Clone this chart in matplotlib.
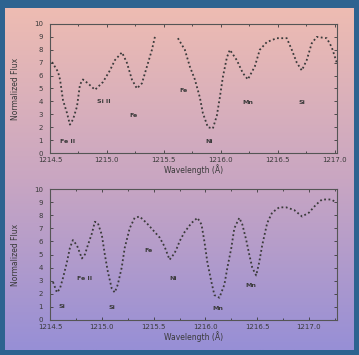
import numpy as np
import matplotlib.pyplot as plt
from matplotlib.colors import LinearSegmentedColormap
from matplotlib.ticker import MultipleLocator

# top spectrum (wavelength in A, normalized flux x10), gap where the scan loses the line
top_wave = [1214.518, 1214.570, 1214.588, 1214.614, 1214.649, 1214.675, 1214.702, 1214.737,
            1214.763, 1214.789, 1214.833, 1214.895, 1214.965, 1215.026, 1215.070, 1215.132,
            1215.175, 1215.219, 1215.263, 1215.307, 1215.351, 1215.395, 1215.421, 1215.52,
            1215.623, 1215.684, 1215.728, 1215.772, 1215.816, 1215.842, 1215.886, 1215.930,
            1215.965, 1215.991, 1216.018, 1216.053, 1216.079, 1216.140, 1216.193, 1216.237,
            1216.298, 1216.342, 1216.404, 1216.491, 1216.579, 1216.623, 1216.667, 1216.711,
            1216.754, 1216.798, 1216.842, 1216.930, 1216.974, 1217.018]
top_flux = [7.05, 6.3, 5.7, 4.1, 3.1, 2.2, 2.6, 3.6,
            5.3, 5.7, 5.4, 4.9, 5.5, 6.4, 7.2, 7.8,
            7.0, 5.7, 5.0, 5.4, 6.7, 8.0, 9.0, np.nan,
            8.9, 8.0, 6.7, 5.7, 4.3, 3.1, 2.0, 1.9,
            2.9, 4.3, 5.9, 7.4, 8.0, 7.2, 6.2, 5.7,
            6.7, 8.0, 8.6, 8.9, 8.9, 8.0, 7.0, 6.4,
            7.2, 8.5, 9.0, 8.9, 8.2, 7.0]

bot_wave = [1214.529, 1214.567, 1214.596, 1214.625, 1214.663, 1214.692, 1214.721, 1214.760,
            1214.808, 1214.837, 1214.865, 1214.904, 1214.933, 1214.962, 1215.000, 1215.029,
            1215.058, 1215.096, 1215.125, 1215.154, 1215.192, 1215.221, 1215.269, 1215.317,
            1215.365, 1215.433, 1215.490, 1215.558, 1215.606, 1215.654, 1215.702, 1215.731,
            1215.750, 1215.798, 1215.865, 1215.923, 1215.962, 1215.990, 1216.019, 1216.058,
            1216.087, 1216.135, 1216.183, 1216.212, 1216.250, 1216.279, 1216.327, 1216.356,
            1216.394, 1216.423, 1216.452, 1216.490, 1216.519, 1216.548, 1216.596, 1216.644,
            1216.712, 1216.779, 1216.856, 1216.933, 1217.000, 1217.067, 1217.125, 1217.212,
            1217.260]
bot_flux = [2.9, 2.1, 2.4, 3.2, 4.4, 5.5, 6.1, 5.7,
            4.7, 5.0, 5.7, 6.6, 7.5, 7.4, 6.5, 5.0,
            3.7, 2.4, 2.1, 2.7, 4.0, 5.5, 7.0, 7.8,
            7.9, 7.4, 6.9, 6.3, 5.6, 4.6, 5.1, 5.6,
            6.0, 6.7, 7.4, 7.8, 7.3, 6.0, 4.4, 2.9,
            1.9, 1.7, 2.7, 4.0, 5.5, 7.0, 7.8, 7.3,
            6.1, 5.0, 4.0, 3.4, 4.4, 5.7, 7.4, 8.2,
            8.6, 8.6, 8.4, 7.9, 8.2, 8.8, 9.2, 9.2,
            9.0]

top_ions = ["Fe II", "Si II", "Fe", "Fe", "Ni", "Mn", "Si"]
top_ion_x = [1214.59, 1214.91, 1215.20, 1215.64, 1215.86, 1216.19, 1216.68]
top_ion_y = [0.8, 3.9, 2.8, 4.7, 0.8, 3.8, 3.8]

bot_ions = ["Fe II", "Si", "Si", "Fe", "Ni", "Mn", "Mn"]
bot_ion_x = [1214.76, 1214.58, 1215.06, 1215.41, 1215.65, 1216.07, 1216.39]
bot_ion_y = [3.05, 0.9, 0.85, 5.2, 3.05, 0.75, 2.5]

xticks = [1214.5, 1215.0, 1215.5, 1216.0, 1216.5, 1217.0]
yticks = list(range(0, 11))

fig = plt.figure(figsize=(3.59, 3.55), dpi=100)
fig.patch.set_facecolor('#2d6390')

# gradient card behind the plots
bg = fig.add_axes([5/359, 5/355, 349/359, 342/355])
cmap = LinearSegmentedColormap.from_list('card', ['#eebcb2', '#c9a6c2', '#978fd6'])
bg.imshow(np.linspace(0, 1, 256).reshape(-1, 1), aspect='auto', cmap=cmap,
          extent=[0, 1, 0, 1])
bg.axis('off')

ink = '#3a3a3a'
panels = [
    ([50/359, 202/355, 287/359, 129/355], top_wave, top_flux, top_ions, top_ion_x, top_ion_y, 1217.02),
    ([50/359, 35/355, 287/359, 131/355], bot_wave, bot_flux, bot_ions, bot_ion_x, bot_ion_y, 1217.27),
]
for rect, wx, fx, ions, ix, iy, xmax in panels:
    ax = fig.add_axes(rect)
    ax.set_facecolor('none')
    ax.plot(wx, fx, color=ink, linestyle=(0, (1, 1.4)), linewidth=1.3)
    for t, x, y in zip(ions, ix, iy):
        ax.text(x, y, t, fontsize=4.5, color=ink, fontweight='bold')
    ax.set_xlim(1214.5, xmax)
    ax.set_ylim(0, 10)
    ax.set_xticks(xticks)
    ax.set_xticklabels([f'{v:.1f}' for v in xticks])
    ax.xaxis.set_minor_locator(MultipleLocator(0.25))
    ax.set_yticks(yticks)
    ax.tick_params(which='both', direction='in', top=True, right=True,
                   labelsize=5, colors=ink, length=2, width=0.6, pad=3)
    ax.tick_params(axis='y', pad=5)
    ax.tick_params(which='minor', length=1.2)
    for s in ax.spines.values():
        s.set_color('#555555')
        s.set_linewidth(0.8)
    ax.set_xlabel('Wavelength (Å)', fontsize=5.5, color=ink, labelpad=1)
    ax.set_ylabel('Normalized Flux', fontsize=5.5, color=ink, labelpad=10)

fig.savefig('out.png', dpi=100)
